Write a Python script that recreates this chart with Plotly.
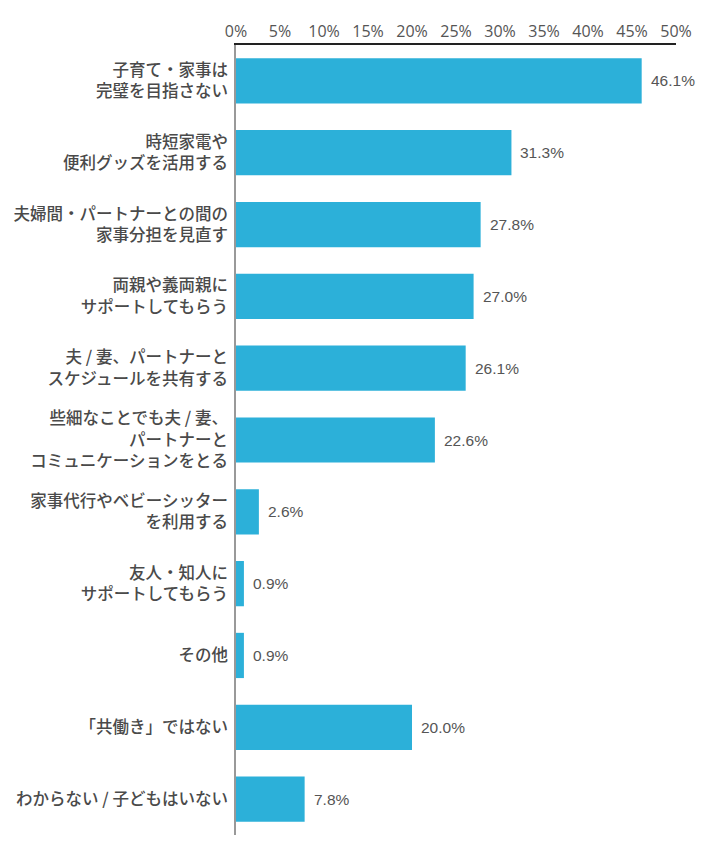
import plotly.graph_objects as go

categories = [
    "子育て・家事は<br>完璧を目指さない",
    "時短家電や<br>便利グッズを活用する",
    "夫婦間・パートナーとの間の<br>家事分担を見直す",
    "両親や義両親に<br>サポートしてもらう",
    "夫 / 妻、パートナーと<br>スケジュールを共有する",
    "些細なことでも夫 / 妻、<br>パートナーと<br>コミュニケーションをとる",
    "家事代行やベビーシッター<br>を利用する",
    "友人・知人に<br>サポートしてもらう",
    "その他",
    "「共働き」ではない",
    "わからない / 子どもはいない",
]
values = [46.1, 31.3, 27.8, 27.0, 26.1, 22.6, 2.6, 0.9, 0.9, 20.0, 7.8]
tick_vals = [0, 5, 10, 15, 20, 25, 30, 35, 40, 45, 50]
tick_text = [f"{v}%" for v in tick_vals]

fig = go.Figure()
fig.add_trace(go.Bar(
    x=values, y=categories, orientation="h",
    marker=dict(color="#2CB0D9", line=dict(width=0)),
    width=0.63,
    hoverinfo="skip",
))

for c, v in zip(categories, values):
    fig.add_annotation(
        x=v, y=c, text=f"{v:.1f}%", showarrow=False,
        xanchor="left", yanchor="middle", xshift=7,
        font=dict(family="Liberation Sans, Arial", size=15.5, color="#555555"),
    )

fig.update_layout(
    width=710, height=860,
    margin=dict(l=228, r=42, t=37, b=33),
    plot_bgcolor="white", paper_bgcolor="white",
    showlegend=False,
    xaxis=dict(
        side="top", range=[0, 50], tickvals=tick_vals, ticktext=tick_text,
        showgrid=False, zeroline=False, showline=True, linecolor="#222222", linewidth=1.5,
        tickfont=dict(family="Open Sans, Noto Sans", size=16, color="#555555"),
        ticks="", ticklabelstandoff=0, fixedrange=True, automargin=False,
    ),
    yaxis=dict(
        autorange="reversed", showgrid=False, zeroline=False,
        showline=True, linecolor="#999999", linewidth=1.5,
        tickfont=dict(family="Noto Sans CJK JP", size=16.5, color="#4a4a4a", weight=500),
        ticks="", ticklabelstandoff=3, fixedrange=True, automargin=False,
    ),
)

fig.write_html("out.html")
